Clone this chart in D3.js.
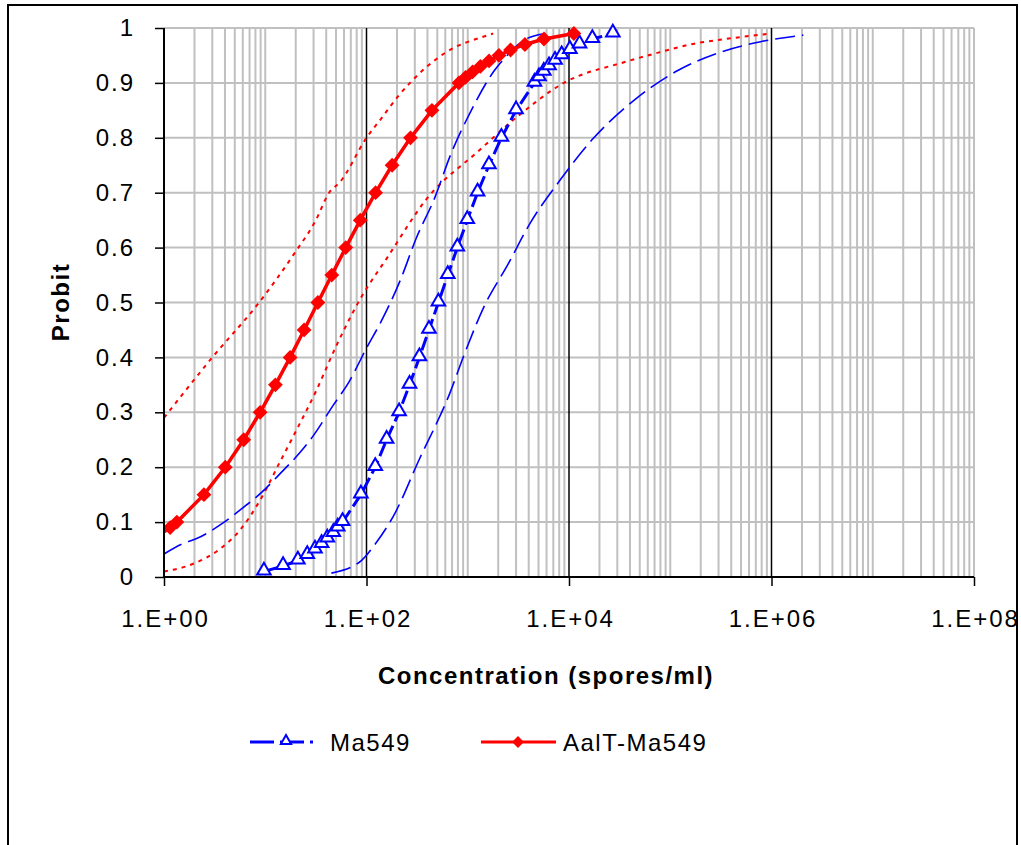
<!DOCTYPE html>
<html>
<head>
<meta charset="UTF-8">
<title>Probit</title>
<script src="https://cdn.jsdelivr.net/npm/d3@7"></script>
<style>
  body { margin: 0; background: #fff; }
  text { font-family: "Liberation Sans", Arial, sans-serif; }
</style>
</head>
<body>
<script>
// --- data ---
var maConc = [9.7, 15, 21, 26, 31, 36, 41, 47, 52, 58, 88, 122, 158, 210, 266, 333, 414, 513, 635, 789, 989, 1250, 1620, 2150, 3000, 4560, 5050, 5640, 6350, 7280, 8470, 10200, 12700, 17000, 27100];
var maProb = [0.01, 0.02, 0.03, 0.04, 0.05, 0.06, 0.07, 0.08, 0.09, 0.10, 0.15, 0.20, 0.25, 0.30, 0.35, 0.40, 0.45, 0.50, 0.55, 0.60, 0.65, 0.70, 0.75, 0.80, 0.85, 0.90, 0.91, 0.92, 0.93, 0.94, 0.95, 0.96, 0.97, 0.98, 0.99];

var aaConc = [0.8, 1.15, 1.34, 2.48, 4.03, 6.13, 8.9, 12.6, 17.6, 24.2, 33.1, 45.4, 62.4, 86.8, 123, 179, 272, 443, 818, 950, 1115, 1332, 1623, 2032, 2648, 3670, 5660, 11170];
var aaProb = [0.07, 0.09, 0.10, 0.15, 0.20, 0.25, 0.30, 0.35, 0.40, 0.45, 0.50, 0.55, 0.60, 0.65, 0.70, 0.75, 0.80, 0.85, 0.90, 0.91, 0.92, 0.93, 0.94, 0.95, 0.96, 0.97, 0.98, 0.99];

// confidence limits, Ma549
var maLoConc = [1, 1.5, 2.1, 3.8, 5.3, 10.2, 13, 24, 30, 47, 67, 100, 140, 215, 310, 475, 680, 1050, 1840, 2360, 3620, 5820];
var maLoProb = [0.042, 0.06, 0.07, 0.098, 0.118, 0.162, 0.182, 0.235, 0.258, 0.313, 0.355, 0.417, 0.466, 0.54, 0.617, 0.692, 0.77, 0.845, 0.923, 0.947, 0.978, 0.99];
var maHiConc = [45, 89, 122, 192, 324, 666, 935, 1470, 2470, 4150, 8170, 17600, 44400, 120000, 302000, 780000, 2060000];
var maHiProb = [0.007, 0.03, 0.06, 0.117, 0.21, 0.335, 0.408, 0.495, 0.568, 0.645, 0.723, 0.80, 0.869, 0.923, 0.955, 0.975, 0.987];

// confidence limits, AalT-Ma549
var aaLoConc = [1, 3.0, 8.7, 19.5, 31.6, 42.7, 55, 100, 141, 204, 269, 589, 1585, 1780];
var aaLoProb = [0.29, 0.40, 0.50, 0.59, 0.65, 0.70, 0.72, 0.80, 0.836, 0.875, 0.90, 0.954, 0.987, 0.99];
var aaHiConc = [1, 2.0, 3.5, 5.6, 8.9, 14, 20, 32, 50, 89, 158, 398, 1260, 3160, 8910, 35500, 79400, 178000, 355000, 1000000];
var aaHiProb = [0.01, 0.025, 0.05, 0.085, 0.14, 0.21, 0.265, 0.34, 0.42, 0.51, 0.58, 0.69, 0.775, 0.84, 0.90, 0.938, 0.956, 0.972, 0.98, 0.99];

var xTicks = [1, 1e2, 1e4, 1e6, 1e8];
var xTickLabels = ["1.E+00", "1.E+02", "1.E+04", "1.E+06", "1.E+08"];
var yTicks = [0, 0.1, 0.2, 0.3, 0.4, 0.5, 0.6, 0.7, 0.8, 0.9, 1];
var yTickLabels = ["0", "0.1", "0.2", "0.3", "0.4", "0.5", "0.6", "0.7", "0.8", "0.9", "1"];

var w = 1021, h = 845;
var plot = { left: 164, right: 974, top: 28, bottom: 577 };

var x = d3.scaleLog().domain([1, 1e8]).range([plot.left, plot.right]);
var y = d3.scaleLinear().domain([0, 1]).range([plot.bottom, plot.top]);

var svg = d3.select("body").append("svg")
    .attr("width", w).attr("height", h);

var defs = svg.append("defs");
defs.append("clipPath").attr("id", "outer")
    .append("rect").attr("x", 8).attr("y", 5).attr("width", 1009).attr("height", 850);
defs.append("clipPath").attr("id", "plotclip")
    .append("rect").attr("x", plot.left).attr("y", plot.top - 8)
    .attr("width", plot.right - plot.left + 10).attr("height", plot.bottom - plot.top + 8);

var root = svg.append("g").attr("clip-path", "url(#outer)");

// gridlines
var grid = root.append("g");
var minor = [];
d3.range(0, 8).forEach(function(k) {
    d3.range(1, 10).forEach(function(n) {
        if (!(n === 1 && k % 2 === 0)) minor.push(n * Math.pow(10, k));
    });
});
minor.push(1e8);
grid.selectAll(".hgrid").data(yTicks.slice(1)).enter().append("line")
    .attr("x1", plot.left).attr("x2", plot.right)
    .attr("y1", d => y(d)).attr("y2", d => y(d))
    .attr("stroke", "#c0c0c0").attr("stroke-width", 2);
grid.selectAll(".vgrid").data(minor).enter().append("line")
    .attr("x1", d => x(d)).attr("x2", d => x(d))
    .attr("y1", plot.top).attr("y2", plot.bottom)
    .attr("stroke", "#c0c0c0").attr("stroke-width", 2);
grid.selectAll(".major").data([1e2, 1e4, 1e6]).enter().append("line")
    .attr("x1", d => x(d)).attr("x2", d => x(d))
    .attr("y1", plot.top).attr("y2", plot.bottom)
    .attr("stroke", "#000").attr("stroke-width", 1.5);

// series
function pts(cs, ps) { return cs.map((c, i) => [c, ps[i]]); }
var smooth = d3.line().x(d => x(d[0])).y(d => y(d[1])).curve(d3.curveMonotoneX);
var straight = d3.line().x(d => x(d[0])).y(d => y(d[1]));

var series = root.append("g").attr("clip-path", "url(#plotclip)");

series.append("path").datum(pts(aaLoConc, aaLoProb)).attr("d", smooth)
    .attr("fill", "none").attr("stroke", "#ff0000").attr("stroke-width", 2).attr("stroke-dasharray", "4,5");
series.append("path").datum(pts(aaHiConc, aaHiProb)).attr("d", smooth)
    .attr("fill", "none").attr("stroke", "#ff0000").attr("stroke-width", 2).attr("stroke-dasharray", "4,5");
series.append("path").datum(pts(maLoConc, maLoProb)).attr("d", smooth)
    .attr("fill", "none").attr("stroke", "#0000ff").attr("stroke-width", 1.6).attr("stroke-dasharray", "20,7");
series.append("path").datum(pts(maHiConc, maHiProb)).attr("d", smooth)
    .attr("fill", "none").attr("stroke", "#0000ff").attr("stroke-width", 1.6).attr("stroke-dasharray", "20,7");

series.append("path").datum(pts(maConc, maProb)).attr("d", straight)
    .attr("fill", "none").attr("stroke", "#0000ff").attr("stroke-width", 3).attr("stroke-dasharray", "14,5");
series.append("path").datum(pts(aaConc, aaProb)).attr("d", straight)
    .attr("fill", "none").attr("stroke", "#ff0000").attr("stroke-width", 3.5);

var tri = d3.symbol().type(d3.symbolTriangle).size(80);
var dia = d3.symbol().type(d3.symbolSquare).size(110);

series.selectAll(".tri").data(pts(maConc, maProb)).enter().append("path")
    .attr("d", tri)
    .attr("transform", d => "translate(" + x(d[0]) + "," + (y(d[1]) - 1) + ")")
    .attr("fill", "#fff").attr("stroke", "#0000ff").attr("stroke-width", 2);
series.selectAll(".dia").data(pts(aaConc, aaProb)).enter().append("path")
    .attr("d", dia)
    .attr("transform", d => "translate(" + x(d[0]) + "," + y(d[1]) + ") rotate(45)")
    .attr("fill", "#ff0000");

// axes
var yAxis = root.append("g").attr("transform", "translate(" + plot.left + ",0)")
    .call(d3.axisLeft(y).tickValues(yTicks).tickSize(9).tickPadding(20)
        .tickFormat((d, i) => yTickLabels[i]));
var xAxis = root.append("g").attr("transform", "translate(0," + plot.bottom + ")")
    .call(d3.axisBottom(x).tickValues(xTicks).tickSize(9).tickPadding(24)
        .tickFormat((d, i) => xTickLabels[i]));
[yAxis, xAxis].forEach(function(a) {
    a.select(".domain").attr("stroke", "#000").attr("stroke-width", 2);
    a.selectAll(".tick line").attr("stroke", "#000").attr("stroke-width", 1.5);
    a.selectAll(".tick text").attr("font-size", 24).attr("letter-spacing", 2)
        .attr("font-family", "Liberation Sans, Arial, sans-serif").attr("fill", "#000");
});
xAxis.selectAll(".tick text").attr("dx", 1);
xAxis.select(".domain").attr("d", "M" + plot.left + ",0H" + plot.right);
yAxis.select(".domain").attr("d", "M0," + plot.top + "V" + plot.bottom);

// titles
root.append("text").attr("x", 546).attr("y", 684).attr("text-anchor", "middle")
    .attr("font-size", 24).attr("font-weight", "bold").attr("letter-spacing", 1.5)
    .text("Concentration (spores/ml)");
root.append("text").attr("transform", "translate(69,302) rotate(-90)").attr("text-anchor", "middle")
    .attr("font-size", 24).attr("font-weight", "bold").attr("letter-spacing", 1.5)
    .text("Probit");

// legend
var leg = root.append("g");
leg.append("line").attr("x1", 250).attr("x2", 313).attr("y1", 742).attr("y2", 742)
    .attr("stroke", "#0000ff").attr("stroke-width", 3).attr("stroke-dasharray", "24,6");
leg.append("path").attr("d", d3.symbol().type(d3.symbolTriangle).size(45))
    .attr("transform", "translate(286,741)")
    .attr("fill", "#fff").attr("stroke", "#0000ff").attr("stroke-width", 2);
leg.append("text").attr("x", 330).attr("y", 751).attr("font-size", 24).attr("letter-spacing", 1.5).text("Ma549");
leg.append("line").attr("x1", 481).attr("x2", 556).attr("y1", 742).attr("y2", 742)
    .attr("stroke", "#ff0000").attr("stroke-width", 3);
leg.append("path").attr("d", d3.symbol().type(d3.symbolSquare).size(70))
    .attr("transform", "translate(518,742) rotate(45)").attr("fill", "#ff0000");
leg.append("text").attr("x", 563).attr("y", 751).attr("font-size", 24).attr("letter-spacing", 1.5).text("AalT-Ma549");

// chart border
svg.append("rect").attr("x", 8).attr("y", 5).attr("width", 1009).attr("height", 850)
    .attr("fill", "none").attr("stroke", "#000").attr("stroke-width", 2);
</script>
</body>
</html>
